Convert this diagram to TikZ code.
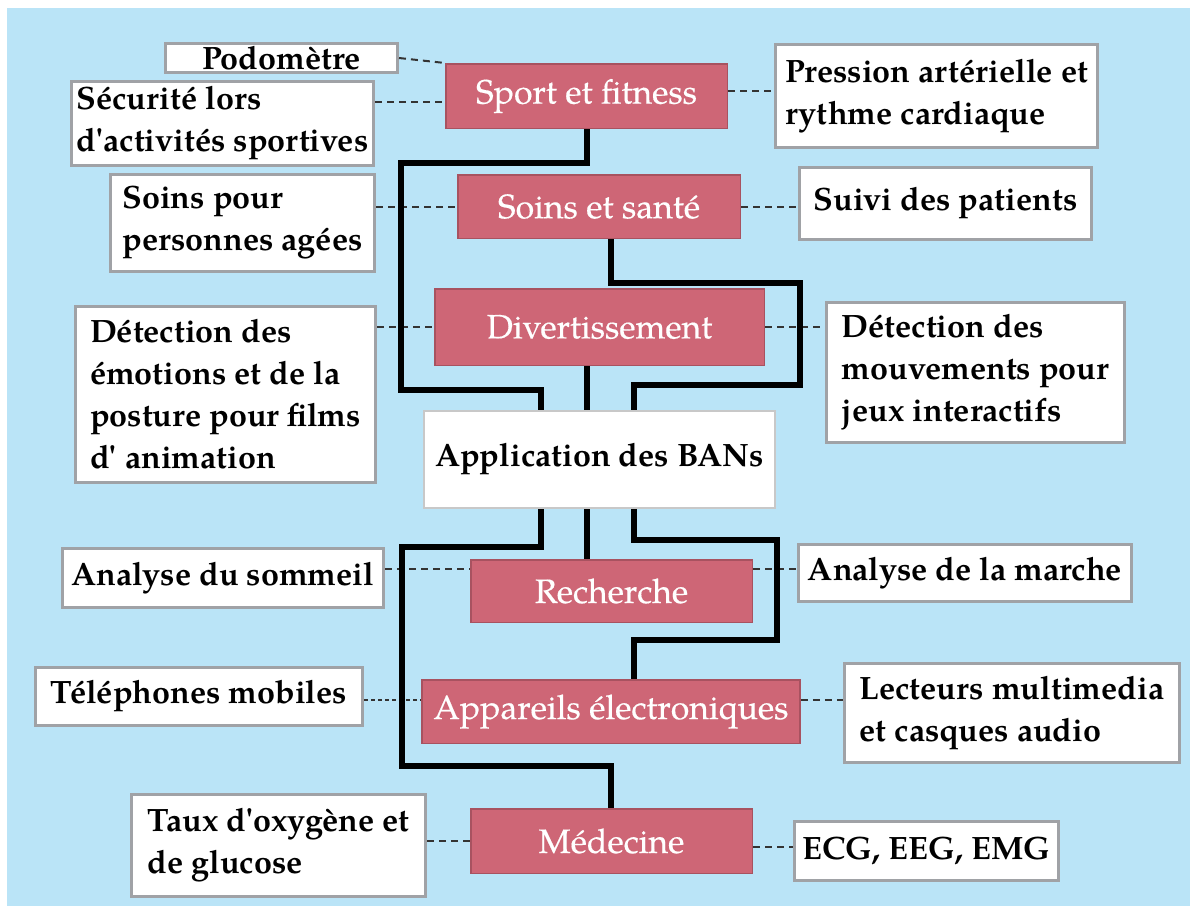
\documentclass[tikz,border=0pt]{standalone}
\usepackage{fontspec}
\setmainfont{texgyrepagella}[Extension=.otf, UprightFont=*-regular, BoldFont=*-bold, Ligatures=TeXOff]
\newfontfamily\catfamily{texgyrepagella}[Extension=.otf, UprightFont=*-regular, BoldFont=*-regular, BoldFeatures={FakeBold=0.4}]
\definecolor{bgblue}{RGB}{186,228,247}
\definecolor{pinkfill}{RGB}{206,102,118}
\definecolor{pinkedge}{RGB}{168,82,96}
\definecolor{grayedge}{RGB}{160,162,166}
\definecolor{appedge}{RGB}{200,200,200}
\newcommand\itemfont{\fontsize{32.3}{42}\selectfont\bfseries}
\newcommand\catfont{\catfamily\fontsize{33.8}{40}\selectfont\bfseries}
\tikzset{
  cat/.style={draw=pinkedge, fill=pinkfill, line width=1.5pt, text=white, font=\catfont, inner sep=0pt},
  item/.style={draw=grayedge, fill=white, line width=3pt, font=\itemfont, align=left, inner sep=0pt, text=black},
  hub/.style={draw=appedge, fill=white, line width=2pt, font=\itemfont, inner sep=0pt},
  link/.style={draw=black!80, line width=2pt, dash pattern=on 7pt off 5pt},
  trunk/.style={draw=black, line width=6pt}
}
\begin{document}
\begin{tikzpicture}[x=1pt,y=-1pt]
\useasboundingbox (0,0) rectangle (1190,908);
\fill[white] (0,0) rectangle (1190,908);
\fill[bgblue] (6.5,7.5) rectangle (1190,906);

% central hub
\node[hub, minimum width=351pt, minimum height=97pt] (app) at (599.5,459.5) {Application des BANs};

% application domains
\node[cat, minimum width=281.5pt, minimum height=64.5pt] (sport)  at (586.5,96)   {Sport et fitness};
\node[cat, minimum width=282.5pt, minimum height=63.5pt] (sante)  at (599,206.5)  {Soins et santé};
\node[cat, minimum width=329.5pt, minimum height=76.5pt] (divert) at (599.5,327)  {Divertissement};
\node[cat, minimum width=281.5pt, minimum height=62.5pt] (rech)   at (611.5,591)  {Recherche};
\node[cat, minimum width=378pt,   minimum height=63.5pt] (appar)  at (611,711.5)  {Appareils électroniques};
\node[cat, minimum width=281.5pt, minimum height=64.5pt] (med)    at (611.5,841)  {Médecine};

% examples, left column
\node[item, minimum width=232pt, minimum height=29pt]  (podo)    at (281.5,58)    {Podomètre};
\node[item, minimum width=302pt, minimum height=84pt]  (secu)    at (222.5,123.5) {Sécurité lors\\d'activités sportives};
\node[item, minimum width=264pt, minimum height=97pt]  (soinsp)  at (242.5,223)   {Soins pour\\personnes agées};
\node[item, minimum width=300pt, minimum height=176pt] (emot)    at (225.5,394.5) {Détection des\\émotions et de la\\posture pour films\\d' animation};
\node[item, minimum width=321pt, minimum height=59pt]  (sommeil) at (223,578)     {Analyse du sommeil};
\node[item, minimum width=327pt, minimum height=58pt]  (tel)     at (199,696.5)   {Téléphones mobiles};
\node[item, minimum width=294pt, minimum height=102pt] (taux)    at (278.5,845.5) {Taux d'oxygène et\\de glucose};

% examples, right column
\node[item, minimum width=322pt, minimum height=103pt] (press)   at (936.5,96)    {Pression artérielle et\\rythme cardiaque};
\node[item, minimum width=292pt, minimum height=72pt]  (suivi)   at (945.5,203.5) {Suivi des patients};
\node[item, minimum width=298pt, minimum height=140pt] (mouv)    at (975.5,372.5) {Détection des\\mouvements pour\\jeux interactifs};
\node[item, minimum width=333pt, minimum height=57pt]  (marche)  at (965,573)     {Analyse de la marche};
\node[item, minimum width=335pt, minimum height=99pt]  (lect)    at (1012,713)    {Lecteurs multimedia\\et casques audio};
\node[item, minimum width=264pt, minimum height=59pt]  (ecg)     at (926.5,851)   {ECG, EEG, EMG};

% dashed links between domains and examples
\draw[link] (podo.east) -- (sport.north west);
\draw[link] (secu.east |- 0,101.7) -- (sport.west |- 0,101.7);
\draw[link] (soinsp.east |- sante.west) -- (sante.west);
\draw[link] (emot.east |- divert.west) -- (divert.west);
\draw[link] (sommeil.east |- 0,569) -- (rech.west |- 0,569);
\draw[link, dash pattern=on 4pt off 3pt] (tel.east |- 0,700) -- (appar.west |- 0,700);
\draw[link] (taux.east |- med.west) -- (med.west);
\draw[link] (sport.east |- 0,90.7) -- (press.west |- 0,90.7);
\draw[link] (sante.east) -- (suivi.west |- sante.east);
\draw[link] (divert.east) -- (mouv.west |- divert.east);
\draw[link] (rech.east |- 0,569) -- (marche.west |- 0,569);
\draw[link] (appar.east |- 0,700) -- (lect.west |- 0,700);
\draw[link] (med.east |- 0,847) -- (ecg.west |- 0,847);

% thick connectors into and out of the hub
\draw[trunk] (sport.south) |- (400.5,162.5) |- (540.5,390) -- (540.5,0 |- app.north);
\draw[trunk] (611,0 |- sante.south) |- (799.5,282.5) |- (634,385) -- (634,0 |- app.north);
\draw[trunk] (586.5,0 |- divert.south) -- (586.5,0 |- app.north);
\draw[trunk] (586.5,0 |- app.south) -- (586.5,0 |- rech.north);
\draw[trunk] (540.5,0 |- app.south) |- (402,546.5) |- (611,765.5) -- (611,0 |- med.north);
\draw[trunk] (634,0 |- app.south) |- (776.5,539.5) |- (634,640) -- (634,0 |- appar.north);
\end{tikzpicture}
\end{document}
